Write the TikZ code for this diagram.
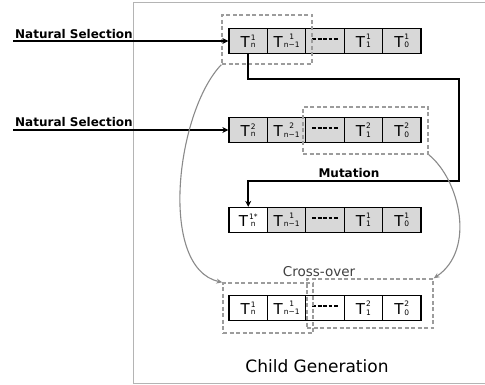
\documentclass[tikz,border=0pt]{standalone}
\usepackage{fontspec}
\setmainfont{DejaVu Sans}
\usetikzlibrary{arrows.meta}
\definecolor{cellgray}{HTML}{D8D8D8}
\definecolor{dboxgray}{HTML}{9C9C9C}
\definecolor{curvegray}{HTML}{8A8A8A}
\definecolor{framegray}{HTML}{B4B4B4}
\definecolor{textgray}{HTML}{404040}
\newcommand\Tsym[2]{T\kern1pt\raisebox{-0.3pt}{\fontsize{7.5}{7}\selectfont\shortstack{#1\\#2}}}
\newcommand\dashbar{\rule{3.8pt}{1.7pt}}
\newcommand\dashes{\raisebox{4.5pt}{\dashbar\hspace{1.6pt}\dashbar\hspace{1.6pt}\dashbar\hspace{1.6pt}\dashbar\hspace{1.6pt}\dashbar}}
\begin{document}
\begin{tikzpicture}[x=1pt,y=-1pt,
  cell/.style={draw=black, line width=1.3pt, minimum width=38.4pt, minimum height=25pt,
    inner sep=0pt, font=\fontsize{15}{15}\selectfont},
  gcell/.style={cell, fill=cellgray},
  wcell/.style={cell, fill=white},
  dbox/.style={draw=dboxgray, line width=1.3pt, dash pattern=on 4pt off 2.5pt,
    inner sep=0pt, fill=none},
  thickarrow/.style={draw=black, line width=1.8pt, -{Stealth[length=6pt,width=6pt]}},
  curvearrow/.style={draw=curvegray, line width=1.1pt, -{Stealth[length=6pt,width=5pt]}},
  nslabel/.style={font=\fontsize{12}{12}\selectfont\bfseries, inner sep=0pt, anchor=base west},
  boldlabel/.style={font=\fontsize{12}{12}\selectfont\bfseries, inner sep=0pt, anchor=base},
]
\useasboundingbox (0,0) rectangle (485,385);
% frame
\draw[framegray, line width=1pt] (485,3) -- (133,3) -- (133,383) -- (485,383);

% row 1
\node[gcell] (r1c1) at (248.2,41) {\Tsym{1}{n}};
\node[gcell] (r1c2) at (286.6,41) {\Tsym{1}{n−1}};
\node[gcell] (r1c3) at (325.0,41) {\dashes};
\node[gcell] (r1c4) at (363.4,41) {\Tsym{1}{1}};
\node[gcell] (r1c5) at (401.8,41) {\Tsym{1}{0}};
% row 2
\node[gcell] (r2c1) at (248.2,130) {\Tsym{2}{n}};
\node[gcell] (r2c2) at (286.6,130) {\Tsym{2}{n−1}};
\node[gcell] (r2c3) at (325.0,130) {\dashes};
\node[gcell] (r2c4) at (363.4,130) {\Tsym{2}{1}};
\node[gcell] (r2c5) at (401.8,130) {\Tsym{2}{0}};
% row 3
\node[wcell] (r3c1) at (248.2,220) {\Tsym{1*}{n}};
\node[gcell] (r3c2) at (286.6,220) {\Tsym{1}{n−1}};
\node[gcell] (r3c3) at (325.0,220) {\dashes};
\node[gcell] (r3c4) at (363.4,220) {\Tsym{1}{1}};
\node[gcell] (r3c5) at (401.8,220) {\Tsym{1}{0}};
% row 4
\node[wcell] (r4c1) at (248.2,308) {\Tsym{1}{n}};
\node[wcell] (r4c2) at (286.6,308) {\Tsym{1}{n−1}};
\node[wcell] (r4c3) at (325.0,308) {\dashes};
\node[wcell] (r4c4) at (363.4,308) {\Tsym{2}{1}};
\node[wcell] (r4c5) at (401.8,308) {\Tsym{2}{0}};

% dashed selection boxes
\node[dbox, minimum width=90pt, minimum height=49pt] (d1) at (267,39.5) {};
\node[dbox, minimum width=125pt, minimum height=47pt] (d2) at (365.5,130.5) {};
\node[dbox, minimum width=90pt, minimum height=50pt] (d4l) at (268,308) {};
\node[dbox, minimum width=126pt, minimum height=49pt] (d4r) at (370,303.5) {};

% natural selection inputs
\node[nslabel] (ns1) at (15,38.5) {Natural Selection};
\node[nslabel] (ns2) at (15,127) {Natural Selection};
\coordinate (s1) at (13,41);
\coordinate (s2) at (13,130);
\draw[thickarrow] (s1) -- (r1c1.west);
\draw[thickarrow] (s2) -- (r2c1.west);

% mutation
\coordinate (m1) at (459,79);
\coordinate (m2) at (459,181);
\draw[thickarrow] (r1c1.south) |- (m1) -- (m2) -| (r3c1.north);
\node[boldlabel] (mut) at (349,177.5) {Mutation};

% cross-over curves
\draw[curvearrow] (d1.south west) .. controls (176,112) and (158,268) .. (d4l.north west);
\draw[curvearrow] (d2.south east) .. controls (460,180) and (476,250) .. (d4r.north east);
\node[font=\fontsize{13.5}{13.5}\selectfont, text=textgray, inner sep=0pt, anchor=base] (co) at (319,276) {Cross-over};

\node[font=\fontsize{17}{17}\selectfont, inner sep=0pt, anchor=base] (cg) at (317,372) {Child Generation};
\end{tikzpicture}
\end{document}
